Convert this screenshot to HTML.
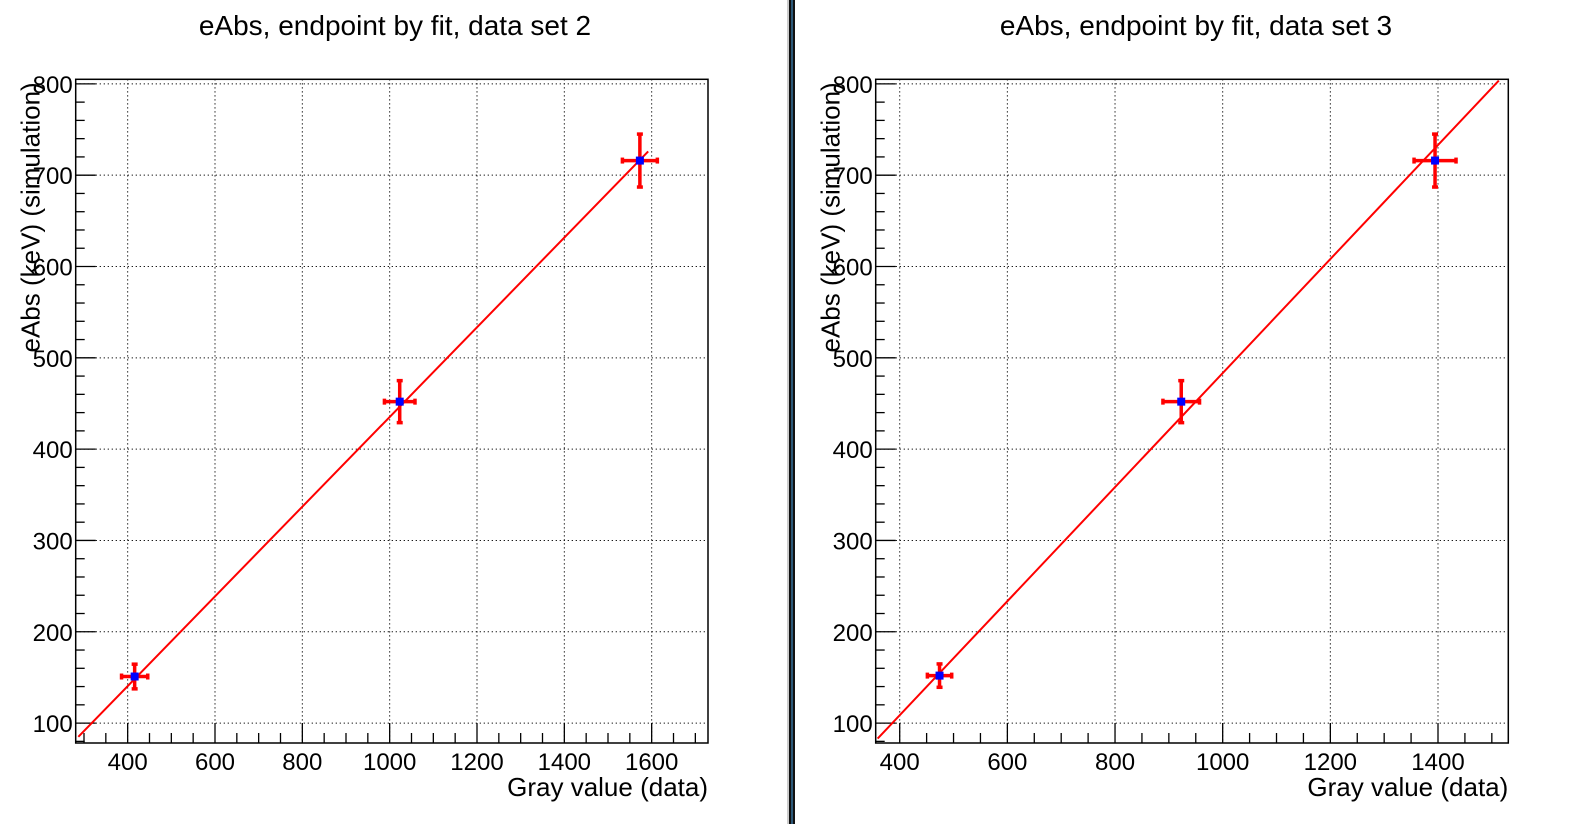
<!DOCTYPE html>
<html><head><meta charset="utf-8"><style>
body{margin:0;background:#fff;}
svg{display:block;font-family:"Liberation Sans",sans-serif;}
</style></head><body>
<svg id="c" width="1586" height="824">
<rect x="787" y="0" width="2" height="824" fill="#ccc"/>
<rect x="789" y="0" width="6" height="824" fill="#111"/>
<rect x="791" y="0" width="2" height="824" fill="#2c5878"/>
</svg>
<script>
const titles = ["eAbs, endpoint by fit, data set 2", "eAbs, endpoint by fit, data set 3"];
const xs2 = [416, 1023, 1573];
const ys2 = [151, 452, 716];
const exs2 = [30, 35, 40];
const eys2 = [13.5, 23, 29];
const fit2 = [[287, 85], [1592, 726]];
const xs3 = [474, 923, 1394.5];
const ys3 = [152, 452, 716];
const exs3 = [22.6, 34, 39];
const eys3 = [12.8, 23, 29];
const fit3 = [[359, 83], [1513, 803.6]];
const yTicks = [100, 200, 300, 400, 500, 600, 700, 800];
const xTicks2 = [400, 600, 800, 1000, 1200, 1400, 1600];
const xTicks3 = [400, 600, 800, 1000, 1200, 1400];

const NS = "http://www.w3.org/2000/svg";
const svg = document.getElementById('c');
function mk(tag, attrs, parent) {
  const e = document.createElementNS(NS, tag);
  for (const k in attrs) e.setAttribute(k, attrs[k]);
  (parent || svg).appendChild(e);
  return e;
}
function panel(p) {
  const g = mk('g', {});
  
  
  const X = v => p.fl + (v - p.xmin) / (p.xmax - p.xmin) * (p.fr - p.fl);
  const Y = v => p.fb - (v - p.ymin) / (p.ymax - p.ymin) * (p.fb - p.ft);
  p.xt.forEach(v => { const l = mk('line', {x1: X(v), x2: X(v), y1: p.ft, y2: p.fb, stroke: '#000', 'stroke-width': 1, 'stroke-dasharray': '1.2,2.8'}, g);
      });
  yTicks.forEach(v => { const l = mk('line', {x1: p.fl, x2: p.fr, y1: Y(v), y2: Y(v), stroke: '#000', 'stroke-width': 1, 'stroke-dasharray': '1.2,2.8'}, g);
      });
  for (let v = Math.ceil(p.xmin / 50) * 50; v <= p.xmax; v += 50) {
    const len = v % 200 === 0 ? 20 : 10;
    const t = mk('line', {x1: X(v), x2: X(v), y1: p.fb, y2: p.fb - len, stroke: '#000', 'stroke-width': 1.3}, g);
     
  }
  for (let v = Math.ceil(p.ymin / 20) * 20; v <= p.ymax; v += 20) {
    const len = v % 100 === 0 ? 20 : 9;
    const t = mk('line', {x1: p.fl, x2: p.fl + len, y1: Y(v), y2: Y(v), stroke: '#000', 'stroke-width': 1.3}, g);
     
  }
  const fr = mk('rect', {x: p.fl, y: p.ft, width: p.fr - p.fl, height: p.fb - p.ft, fill: 'none', stroke: '#000', 'stroke-width': 1.5}, g);
   
  p.xt.forEach(v => { const t = mk('text', {x: X(v), y: p.fb + 27, 'font-size': 24, 'text-anchor': 'middle'}, g); t.textContent = v;
      });
  yTicks.forEach(v => { const t = mk('text', {x: p.fl - 3, y: Y(v) + 9, 'font-size': 24, 'text-anchor': 'end'}, g); t.textContent = v;
      });
  const xt = mk('text', {x: p.fr, y: p.fb + 53, 'font-size': 26, 'text-anchor': 'end'}, g); xt.textContent = 'Gray value (data)';
   
  const yt = mk('text', {x: 0, y: 0, 'font-size': 26, 'text-anchor': 'end', transform: `translate(${p.fl - 36},${p.ft + 3}) rotate(-90)`}, g); yt.textContent = 'eAbs (keV) (simulation)';
   
  const tt = mk('text', {x: p.tx, y: 35, 'font-size': 28, 'text-anchor': 'middle'}, g); tt.textContent = p.title;
   
  const fl = mk('line', {x1: X(p.fit[0][0]), y1: Y(p.fit[0][1]), x2: X(p.fit[1][0]), y2: Y(p.fit[1][1]), stroke: '#f00', 'stroke-width': 2}, g);
   
  p.xs.forEach((xv, i) => {
    const cx = X(xv), cy = Y(p.ys[i]);
    const x1 = X(xv - p.ex[i]), x2 = X(xv + p.ex[i]);
    const y1 = Y(p.ys[i] + p.ey[i]), y2 = Y(p.ys[i] - p.ey[i]);
    const eg = mk('g', {stroke: '#f00', 'stroke-width': 3.5}, g);
     
    mk('line', {x1: x1, x2: x2, y1: cy, y2: cy}, eg);
    mk('line', {x1: cx, x2: cx, y1: y1, y2: y2}, eg);
    mk('line', {x1: x1, x2: x1, y1: cy - 3, y2: cy + 3}, eg);
    mk('line', {x1: x2, x2: x2, y1: cy - 3, y2: cy + 3}, eg);
    mk('line', {x1: cx - 3, x2: cx + 3, y1: y1, y2: y1}, eg);
    mk('line', {x1: cx - 3, x2: cx + 3, y1: y2, y2: y2}, eg);
    const m = mk('rect', {x: cx - 4, y: cy - 4, width: 8, height: 8, fill: '#00f'}, g);
     
  });
}
panel({name: 'panel-data-set-2', title: titles[0], tx: 395, fl: 75.7, fr: 708, ft: 79.3, fb: 743, xmin: 281, xmax: 1729, ymin: 78.2, ymax: 805, xt: xTicks2, xs: xs2, ys: ys2, ex: exs2, ey: eys2, fit: fit2});
panel({name: 'panel-data-set-3', title: titles[1], tx: 1196, fl: 875.7, fr: 1508.3, ft: 79.3, fb: 743, xmin: 355.4, xmax: 1530.6, ymin: 78.2, ymax: 805, xt: xTicks3, xs: xs3, ys: ys3, ex: exs3, ey: eys3, fit: fit3});
</script>
</body></html>
